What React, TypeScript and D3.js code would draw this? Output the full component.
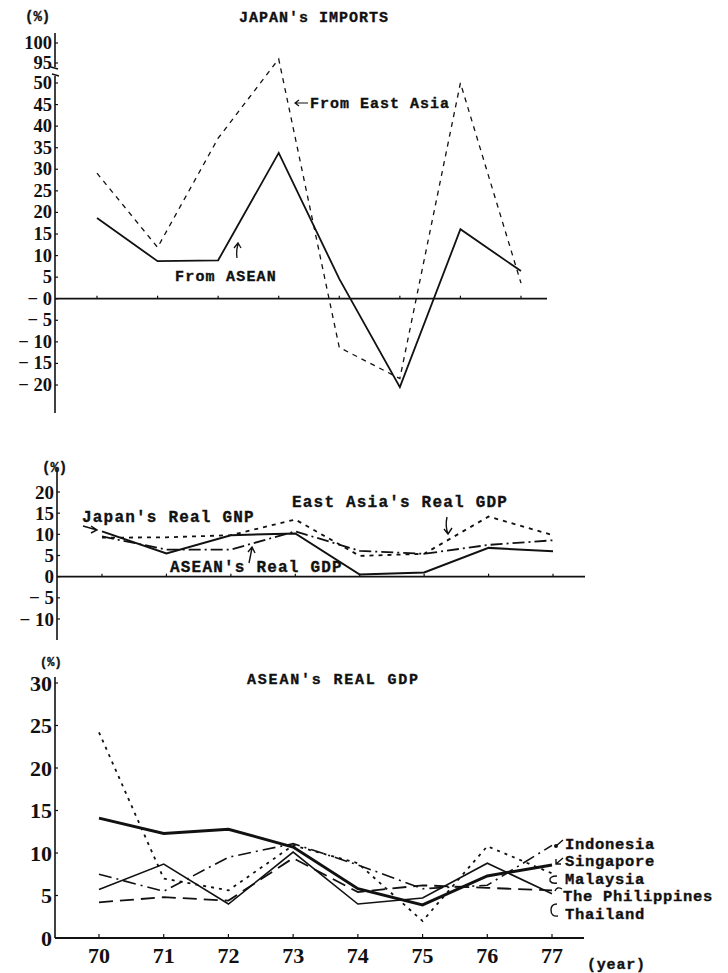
import React from "react";
import * as d3 from "d3";

// ---------- DATA ----------
const years = [70, 71, 72, 73, 74, 75, 76, 77];

// Top: Japan's imports growth (%)
const importsFromASEAN = [18.7, 8.7, 8.9, 33.8, 4.6, -20.5, 16.1, 6.4];
const importsFromEastAsia = [29.1, 11.9, 37.2, 96, -11.3, -18.5, 50, 3.6];
const topTicks = [100, 95, 50, 45, 40, 35, 30, 25, 20, 15, 10, 5, 0, -5, -10, -15, -20];

// Middle: real growth (%)
const japanRealGNP = [10.7, 5.5, 9.8, 10.2, 0.5, 1.0, 6.8, 6.0];
const eastAsiaRealGDP = [9.2, 9.3, 9.8, 13.5, 4.9, 5.4, 14.2, 9.8];
const aseanRealGDP = [9.5, 6.4, 6.4, 10.7, 6.1, 5.4, 7.5, 8.6];
const midTicks = [20, 15, 10, 5, 0, -5, -10];

// Bottom: ASEAN countries' real GDP (%)
const indonesia = [7.5, 5.5, 9.5, 11.1, 8.6, 5.8, 6.2, 10.9];
const singapore = [14.1, 12.3, 12.8, 10.7, 5.8, 3.9, 7.3, 8.6];
const malaysia = [24.2, 7.0, 5.6, 10.9, 8.8, 2.0, 10.8, 7.6];
const philippines = [4.2, 4.8, 4.4, 9.4, 5.4, 6.2, 5.9, 5.6];
const thailand = [5.7, 8.7, 4.0, 10.1, 4.0, 4.7, 8.8, 5.2];
const botTicks = [30, 25, 20, 15, 10, 5, 0];

const MONO = "'Liberation Mono', 'Courier New', monospace";
const SERIF = "'Liberation Serif', 'Times New Roman', serif";

// ---------- SCALES ----------
const xTop = d3.scaleLinear().domain([70, 77]).range([97, 521]);
const yTop = d3.scaleLinear().domain([-20, 50, 95, 100]).range([385, 83, 63, 43]);
const xMid = d3.scaleLinear().domain([70, 77]).range([102, 553]);
const yMid = d3.scaleLinear().domain([-10, 20]).range([619, 492]);
const xBot = d3.scaleLinear().domain([70, 77]).range([99, 552]);
const yBot = d3.scaleLinear().domain([0, 30]).range([938, 683]);

function linePath(xs: any, ys: any, vals: number[]) {
  return (
    d3
      .line<number>()
      .x((_, i) => xs(years[i]))
      .y((v) => ys(v))(vals) || ""
  );
}

function tickLabel(v: number) {
  return v < 0 ? `\u2212 ${Math.abs(v)}` : v === 0 ? "\u2212 0" : `${v}`;
}

const black = "#111";
const monoStyle = {
  fontFamily: MONO,
  fontWeight: "bold" as const,
  fill: black,
  stroke: black,
  strokeWidth: 0.35,
};

export default function App() {
  return (
    <svg
      width={728}
      height={973}
      style={{ display: "block", background: "#fff", position: "absolute", left: 0, top: 0 }}
    >
      {/* ================= TOP CHART ================= */}
      <text x={25} y={21} {...monoStyle} fontSize={14}>(%)</text>
      <text x={314} y={22} textAnchor="middle" {...monoStyle} fontSize={15} letterSpacing={1}>
        JAPAN's IMPORTS
      </text>
      {/* axis */}
      <line x1={55} x2={55} y1={33} y2={67} stroke={black} strokeWidth={1.6} />
      <line x1={55} x2={55} y1={76} y2={413} stroke={black} strokeWidth={1.6} />
      <path d="M51,67 L58,69 M52,74 L59,76" stroke={black} strokeWidth={1.5} fill="none" />
      {topTicks.map((t) => (
        <g key={"tt" + t}>
          <line x1={55} x2={58} y1={yTop(t)} y2={yTop(t)} stroke={black} strokeWidth={1.2} />
          <text x={52} y={yTop(t) + 6} textAnchor="end" fontFamily={SERIF} fontWeight="bold" fontSize={18.5} fill={black}>
            {t === 0 ? "\u2212 0" : tickLabel(t)}
          </text>
        </g>
      ))}
      {/* zero line */}
      <line x1={55} x2={547} y1={yTop(0)} y2={yTop(0)} stroke={black} strokeWidth={1.8} />
      {years.map((y) => (
        <line key={"tx" + y} x1={xTop(y)} x2={xTop(y)} y1={yTop(0)} y2={yTop(0) - 3} stroke={black} strokeWidth={1.2} />
      ))}
      <path d={linePath(xTop, yTop, importsFromEastAsia)} fill="none" stroke={black} strokeWidth={1.3} strokeDasharray="5,5" />
      <path d={linePath(xTop, yTop, importsFromASEAN)} fill="none" stroke={black} strokeWidth={1.8} />
      {/* labels */}
      <path d="M308,103 L295,103 M299,100 L295,103 L299,106" stroke={black} strokeWidth={1.2} fill="none" />
      <text x={310} y={108} {...monoStyle} fontSize={15} letterSpacing={1}>From East Asia</text>
      <path d="M237,258 Q236,251 238,244 M234,248 L238,243 L241,248" stroke={black} strokeWidth={1.3} fill="none" />
      <text x={175} y={281} {...monoStyle} fontSize={15} letterSpacing={1.2}>From ASEAN</text>

      {/* ================= MIDDLE CHART ================= */}
      <text x={42} y={472} {...monoStyle} fontSize={14}>(%)</text>
      <line x1={57} x2={57} y1={468} y2={640} stroke={black} strokeWidth={1.6} />
      {midTicks.map((t) => (
        <g key={"mt" + t}>
          <line x1={57} x2={60} y1={yMid(t)} y2={yMid(t)} stroke={black} strokeWidth={1.2} />
          <text x={54} y={yMid(t) + 6.5} textAnchor="end" fontFamily={SERIF} fontWeight="bold" fontSize={19} fill={black}>
            {t === 0 ? "0" : tickLabel(t)}
          </text>
        </g>
      ))}
      <line x1={57} x2={585} y1={yMid(0)} y2={yMid(0)} stroke={black} strokeWidth={1.8} />
      {years.map((y) => (
        <line key={"mx" + y} x1={xMid(y)} x2={xMid(y)} y1={yMid(0)} y2={yMid(0) - 3} stroke={black} strokeWidth={1.2} />
      ))}
      <path d={linePath(xMid, yMid, eastAsiaRealGDP)} fill="none" stroke={black} strokeWidth={1.8} strokeDasharray="4,5" />
      <path d={linePath(xMid, yMid, aseanRealGDP)} fill="none" stroke={black} strokeWidth={1.8} strokeDasharray="12,4,2,4" />
      <path d={linePath(xMid, yMid, japanRealGNP)} fill="none" stroke={black} strokeWidth={2} />
      <text x={82} y={522} {...monoStyle} fontSize={16} letterSpacing={1.2}>Japan's Real GNP</text>
      <path d="M83,526 L97,530 M91,526 L97,530 L91,533" stroke={black} strokeWidth={1.4} fill="none" />
      <text x={292} y={507} {...monoStyle} fontSize={16} letterSpacing={1.2}>East Asia's Real GDP</text>
      <path d="M447,517 Q445,526 448,534 M444,529 L448,534 L452,528" stroke={black} strokeWidth={1.4} fill="none" />
      <text x={170} y={572} {...monoStyle} fontSize={16} letterSpacing={1.2}>ASEAN's Real GDP</text>
      <path d="M249,563 L252,548 M248,552 L252,547 L255,553" stroke={black} strokeWidth={1.4} fill="none" />

      {/* ================= BOTTOM CHART ================= */}
      <text x={40} y={666} {...monoStyle} fontSize={12}>(%)</text>
      <text x={247} y={684} {...monoStyle} fontSize={15} letterSpacing={1.8}>ASEAN's REAL GDP</text>
      <line x1={55} x2={55} y1={677} y2={938} stroke={black} strokeWidth={1.6} />
      {botTicks.map((t) => (
        <g key={"bt" + t}>
          <line x1={55} x2={58} y1={yBot(t)} y2={yBot(t)} stroke={black} strokeWidth={1.2} />
          <text x={52} y={yBot(t) + 7.5} textAnchor="end" fontFamily={SERIF} fontWeight="bold" fontSize={22} fill={black}>
            {t}
          </text>
        </g>
      ))}
      <line x1={55} x2={584} y1={yBot(0)} y2={yBot(0)} stroke={black} strokeWidth={1.8} />
      {years.map((y) => (
        <g key={"bx" + y}>
          <line x1={xBot(y)} x2={xBot(y)} y1={yBot(0)} y2={yBot(0) - 4} stroke={black} strokeWidth={1.2} />
          <text x={xBot(y)} y={963} textAnchor="middle" fontFamily={SERIF} fontWeight="bold" fontSize={22} fill={black}>
            {y}
          </text>
        </g>
      ))}
      <text x={587} y={969} {...monoStyle} fontSize={15} letterSpacing={0.8}>(year)</text>

      <path d={linePath(xBot, yBot, malaysia)} fill="none" stroke={black} strokeWidth={1.8} strokeDasharray="3,5" />
      <path d={linePath(xBot, yBot, philippines)} fill="none" stroke={black} strokeWidth={1.8} strokeDasharray="14,7" />
      <path d={linePath(xBot, yBot, indonesia)} fill="none" stroke={black} strokeWidth={1.6} strokeDasharray="13,5,2,5" />
      <path d={linePath(xBot, yBot, thailand)} fill="none" stroke={black} strokeWidth={1.6} />
      <path d={linePath(xBot, yBot, singapore)} fill="none" stroke={black} strokeWidth={3} />

      {/* country labels */}
      <path d="M556,846 L563,840" stroke={black} strokeWidth={1.4} fill="none" />
      <circle cx={556} cy={846} r={2} fill={black} />
      <text x={565} y={849} {...monoStyle} fontSize={15.5} letterSpacing={0.7}>Indonesia</text>
      <path d="M563,858 L556,864 M556,859 L556,864 L561,864" stroke={black} strokeWidth={1.4} fill="none" />
      <text x={565} y={866} {...monoStyle} fontSize={15.5} letterSpacing={0.7}>Singapore</text>
      <path d="M557,876 Q549,876 550,881 Q552,884 557,883" stroke={black} strokeWidth={1.4} fill="none" />
      <text x={565} y={884} {...monoStyle} fontSize={15.5} letterSpacing={0.7}>Malaysia</text>
      <path d="M555,891 Q557,886 562,889" stroke={black} strokeWidth={1.4} fill="none" />
      <text x={563} y={901} {...monoStyle} fontSize={15.5} letterSpacing={0.7}>The Philippines</text>
      <path d="M557,904 Q551,904 551,910 Q551,917 558,916" stroke={black} strokeWidth={1.4} fill="none" />
      <text x={565} y={919} {...monoStyle} fontSize={15.5} letterSpacing={0.7}>Thailand</text>
    </svg>
  );
}
